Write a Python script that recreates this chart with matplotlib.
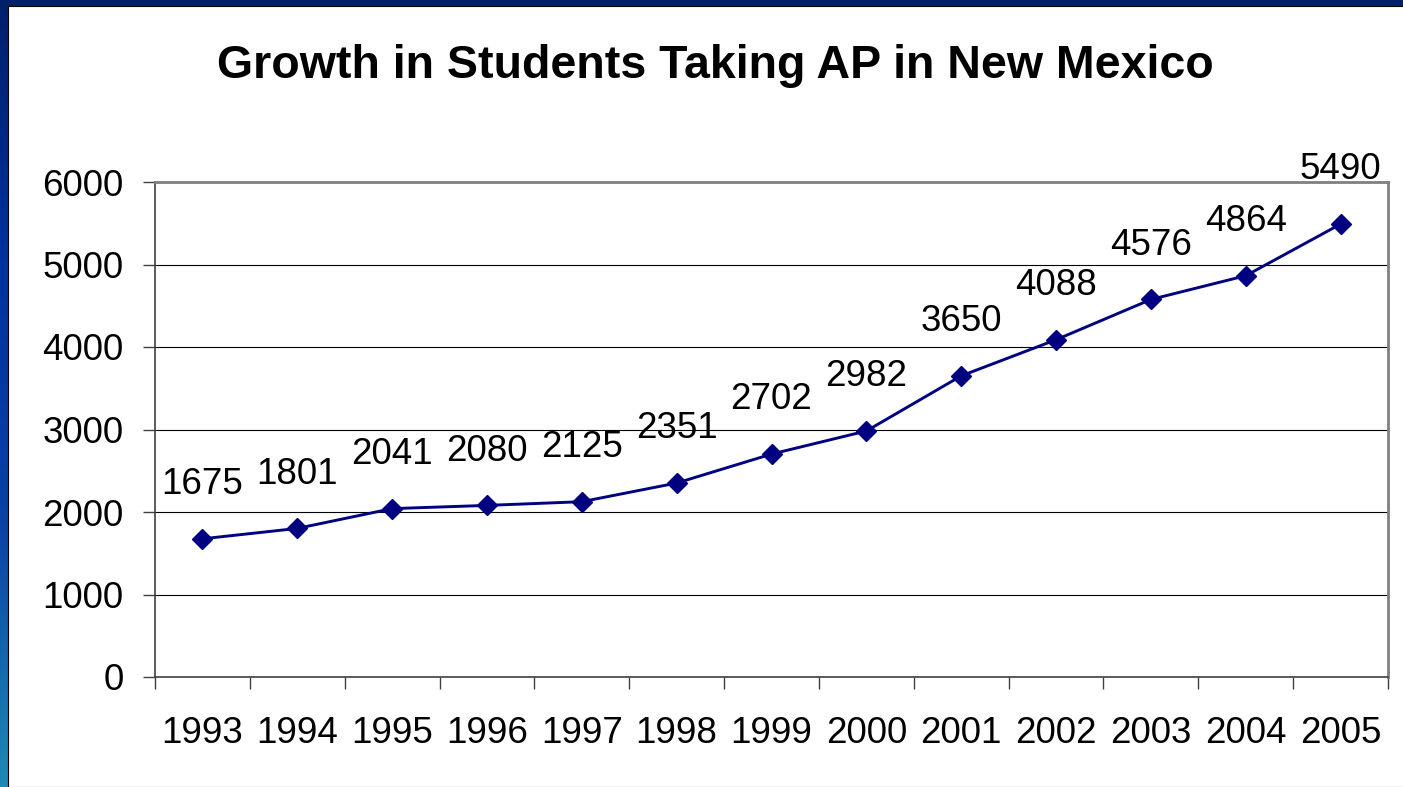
import numpy as np
import matplotlib.pyplot as plt
from matplotlib.patches import Rectangle
from matplotlib.colors import LinearSegmentedColormap

plt.rcParams['font.family'] = ['Liberation Sans', 'DejaVu Sans']

# data
years = ['1993', '1994', '1995', '1996', '1997', '1998', '1999',
         '2000', '2001', '2002', '2003', '2004', '2005']
students = [1675, 1801, 2041, 2080, 2125, 2351, 2702,
            2982, 3650, 4088, 4576, 4864, 5490]
y_ticks = [0, 1000, 2000, 3000, 4000, 5000, 6000]

fig = plt.figure(figsize=(14.03, 7.87), dpi=100)

# slide frame: blue gradient band on the left and top
bg = fig.add_axes([0, 0, 1, 1], zorder=-2)
bg.axis('off')
cmap = LinearSegmentedColormap.from_list('frame', ['#00206b', '#0033a0', '#0a42a6', '#1f8ab6'])
grad = np.linspace(0, 1, 256).reshape(-1, 1)
bg.imshow(grad, cmap=cmap, extent=[0, 1, 0, 1], aspect='auto', origin='upper')
bg.add_patch(Rectangle((8 / 1403, 0), 1, 1 - 6 / 787, facecolor='white',
                       edgecolor='black', linewidth=0.8))
bg.set_xlim(0, 1)
bg.set_ylim(0, 1)

ax = fig.add_axes([155 / 1403, 1 - 677 / 787, 1233 / 1403, 495 / 787])
x = np.arange(len(years))
ax.plot(x, students, color='#000080', linewidth=2.1, marker='D',
        markersize=10.5, zorder=3, clip_on=False)
for xi, v in zip(x, students):
    ax.annotate(str(v), (xi, v), xytext=(0, 39), textcoords='offset points',
                ha='center', va='center', fontsize=26.5, color='black')

ax.set_xlim(-0.5, len(years) - 0.5)
ax.set_ylim(0, 6000)
ax.set_yticks(y_ticks)
ax.set_yticklabels([str(t) for t in y_ticks])
ax.yaxis.grid(True, color='black', linewidth=0.8)
ax.set_axisbelow(True)

ax.set_xticks(x)
ax.set_xticklabels(years)
ax.set_xticks(np.arange(-0.5, len(years)), minor=True)
ax.tick_params(axis='x', which='major', length=0, pad=28, labelsize=26.5)
ax.tick_params(axis='x', which='minor', length=8.6, width=1, color='#404040', direction='out')
ax.tick_params(axis='y', length=8.6, width=1, color='#404040', pad=14, labelsize=26.5)

for side in ['left', 'bottom']:
    ax.spines[side].set_color('#404040')
    ax.spines[side].set_linewidth(1.2)
for side in ['top', 'right']:
    ax.spines[side].set_color('#808080')
    ax.spines[side].set_linewidth(2)

fig.text(715 / 1403, 1 - 66 / 787, 'Growth in Students Taking AP in New Mexico',
         ha='center', va='center', fontsize=33.5, fontweight='bold')

fig.savefig('out.png', dpi=100)
